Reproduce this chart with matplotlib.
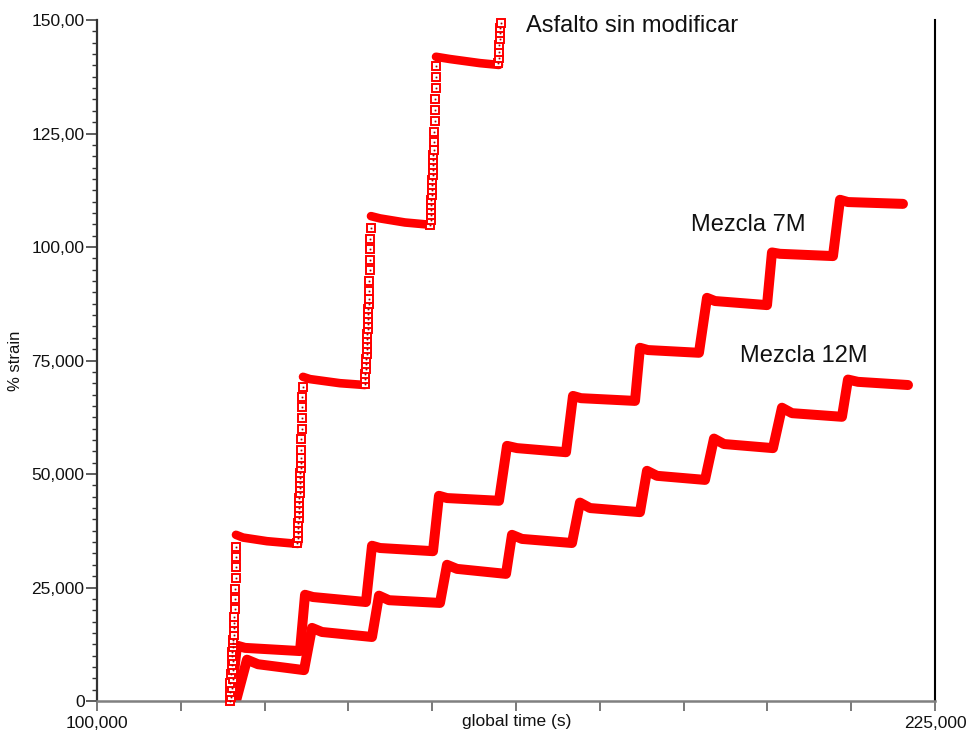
import matplotlib
matplotlib.use("Agg")
import matplotlib.pyplot as plt
from matplotlib.ticker import FixedLocator, FixedFormatter, MultipleLocator

plt.rcParams['font.family'] = ['Liberation Sans', 'DejaVu Sans']

RED = '#ff0000'

# ---- Asfalto sin modificar: creep plateaus after each load step ----
asf_plateau_t = [
    [120730, 121780, 125360, 130000],
    [130730, 131770, 136250, 139975],
    [140870, 142210, 145940, 149670],
    [150570, 152650, 157130, 159960],
]
asf_plateau_s = [
    [36.6, 36.0, 35.2, 34.6],
    [71.4, 70.9, 70.0, 69.6],
    [106.8, 106.3, 105.4, 104.9],
    [141.9, 141.4, 140.5, 140.1],
]

# ---- Asfalto sin modificar: samples recorded during each loading ramp ----
asf_rise1_t = [119850, 120000, 119800, 120150, 119900, 120250, 120000, 120300,
               120100, 120350, 120150, 120200, 120300, 120250, 120350, 120400,
               120450, 120450, 120500, 120550, 120600, 120650, 120700, 120700,
               120750, 120800]
asf_rise1_s = [0.0, 0.9, 2.0, 2.9, 4.0, 4.8, 5.9, 6.8, 7.9, 8.8, 9.9, 10.8,
               11.9, 12.8, 13.4, 14.5, 16.1, 17.2, 18.5, 20.3, 22.5, 24.7,
               27.1, 29.5, 31.7, 33.9]

asf_rise2_t = [129900, 129950, 130000, 130000, 130050, 130100, 130100, 130150,
               130200, 130200, 130250, 130300, 130300, 130350, 130350, 130400,
               130400, 130450, 130450, 130500, 130550, 130550, 130600, 130650,
               130700]
asf_rise2_s = [34.8, 35.9, 37.0, 38.1, 39.2, 40.3, 41.4, 42.5, 43.6, 44.7,
               45.8, 46.9, 48.0, 49.1, 50.2, 51.3, 52.4, 53.5, 55.3, 57.7,
               59.9, 62.3, 64.8, 67.0, 69.2]

asf_rise3_t = [140000, 140050, 140050, 140100, 140150, 140150, 140200, 140250,
               140250, 140300, 140300, 140350, 140400, 140400, 140450, 140450,
               140500, 140550, 140550, 140600, 140650, 140700, 140700, 140750,
               140800]
asf_rise3_s = [69.8, 70.9, 72.0, 73.1, 74.2, 75.3, 76.4, 77.5, 78.6, 79.7,
               80.8, 81.9, 83.0, 84.1, 85.2, 86.3, 87.4, 88.5, 90.3, 92.5,
               94.9, 97.1, 99.6, 101.8, 104.2]

asf_rise4_t = [149700, 149750, 149750, 149800, 149850, 149850, 149900, 149950,
               149950, 150000, 150050, 150050, 150100, 150150, 150150, 150200,
               150250, 150300, 150350, 150400, 150450, 150500, 150550, 150600]
asf_rise4_s = [104.8, 105.9, 107.0, 108.1, 109.3, 110.4, 111.5, 112.6, 113.7,
               114.8, 115.9, 117.0, 118.1, 119.2, 120.3, 121.4, 123.1, 125.3,
               127.8, 130.2, 132.6, 135.0, 137.4, 139.9]

asf_rise5_t = [159850, 159900, 159950, 160000, 160050, 160100, 160150, 160200]
asf_rise5_s = [140.5, 141.6, 143.0, 144.5, 145.8, 147.1, 148.2, 149.3]

# ---- Mezcla 7M: ramp start, peak, early creep, end of hold for each step ----
m7_t = [119990, 120880, 122080, 130280,
        131030, 132220, 140120,
        141020, 142210, 150120,
        151010, 152210, 159960,
        161160, 162650, 169960,
        171000, 172190, 180250,
        180990, 182180, 189790,
        190990, 192180, 199940,
        200680, 201870, 209780,
        210830, 212020, 220220]
m7_s = [0.0, 12.2, 11.7, 11.0,
        23.4, 22.9, 21.8,
        34.2, 33.7, 33.0,
        45.2, 44.7, 44.1,
        56.2, 55.7, 54.8,
        67.2, 66.7, 66.1,
        77.8, 77.3, 76.7,
        88.8, 88.1, 87.2,
        98.8, 98.5, 98.0,
        110.4, 109.9, 109.5]

# ---- Mezcla 12M ----
m12_t = [120730, 122370, 124010, 130880,
         132070, 133560, 141020,
         142060, 143560, 151160,
         152210, 153700, 161010,
         161900, 163390, 170850,
         172040, 173540, 180990,
         182040, 183530, 190690,
         192030, 193520, 200830,
         202170, 203670, 211120,
         212020, 213510, 220970]
m12_s = [0.0, 9.1, 8.1, 6.8,
         16.1, 15.2, 14.1,
         23.2, 22.2, 21.6,
         30.0, 29.1, 28.0,
         36.6, 35.7, 34.8,
         43.7, 42.5, 41.6,
         50.7, 49.6, 48.7,
         57.8, 56.6, 55.7,
         64.6, 63.4, 62.6,
         70.8, 70.3, 69.6]

# ---- axis ticks and labels ----
x_ticks = list(range(100000, 225001, 12500))
x_tick_labels = ['100,000'] + [''] * 9 + ['225,000']
y_ticks = [0, 25, 50, 75, 100, 125, 150]
y_tick_labels = ['0', '25,000', '50,000', '75,000', '100,00', '125,00', '150,00']

series_labels = [
    ('Asfalto sin modificar', 164000, 147.4),
    ('Mezcla 7M', 188600, 103.5),
    ('Mezcla 12M', 195900, 74.7),
]

fig = plt.figure(figsize=(9.69, 7.33), dpi=100)
ax = fig.add_axes([97 / 969, 1 - 701 / 733, (935 - 97) / 969, (701 - 20) / 733])
ax.set_xlim(100000, 225000)
ax.set_ylim(0, 150)

line_kw = dict(color=RED, solid_joinstyle='round', solid_capstyle='round')
ax.plot(m12_t, m12_s, lw=7.2, zorder=2, **line_kw)
ax.plot(m7_t, m7_s, lw=7.2, zorder=2, **line_kw)
for t, s in zip(asf_plateau_t, asf_plateau_s):
    ax.plot(t, s, lw=6.2, zorder=3, **line_kw)

rise_t = [asf_rise1_t, asf_rise2_t, asf_rise3_t, asf_rise4_t, asf_rise5_t]
rise_s = [asf_rise1_s, asf_rise2_s, asf_rise3_s, asf_rise4_s, asf_rise5_s]
for t, s in zip(rise_t, rise_s):
    ax.plot(t, s, ls='none', marker='s', ms=5.8, mfc='white', mec=RED,
            mew=1.4, zorder=4, clip_on=False)
    ax.plot(t, s, ls='none', marker='s', ms=0.9, mfc='#aa0000', mec='#aa0000',
            mew=0.3, zorder=5, clip_on=False)

for text, tx, ty in series_labels:
    ax.text(tx, ty, text, fontsize=17, color='#111111', ha='left', va='baseline')

# spines
ax.spines['top'].set_visible(False)
ax.spines['right'].set_color('black')
ax.spines['right'].set_linewidth(1.5)
ax.spines['left'].set_color('#333333')
ax.spines['left'].set_linewidth(1.6)
ax.spines['bottom'].set_color('#808080')
ax.spines['bottom'].set_linewidth(1.8)

ax.xaxis.set_major_locator(FixedLocator(x_ticks))
ax.xaxis.set_major_formatter(FixedFormatter(x_tick_labels))
ax.yaxis.set_major_locator(FixedLocator(y_ticks))
ax.yaxis.set_major_formatter(FixedFormatter(y_tick_labels))
ax.yaxis.set_minor_locator(MultipleLocator(2.5))

ax.tick_params(axis='x', which='major', direction='out', length=7.5, width=1.1,
               color='#555555', labelcolor='#111111', labelsize=12.5, pad=3)
ax.tick_params(axis='y', which='major', direction='out', length=8, width=1.1,
               color='#333333', labelcolor='#111111', labelsize=12.5, pad=1)
ax.tick_params(axis='y', which='minor', direction='out', length=3.8, width=1.0,
               color='#333333')
ax.tick_params(right=False, top=False, which='both')

ax.set_xlabel('global time (s)', fontsize=12.5, color='#111111')
ax.xaxis.set_label_coords(0.501, -0.019)
ax.set_ylabel('% strain', fontsize=12, color='#111111')
ax.yaxis.set_label_coords(-0.088, 0.5)

fig.savefig('out.png', dpi=100)
